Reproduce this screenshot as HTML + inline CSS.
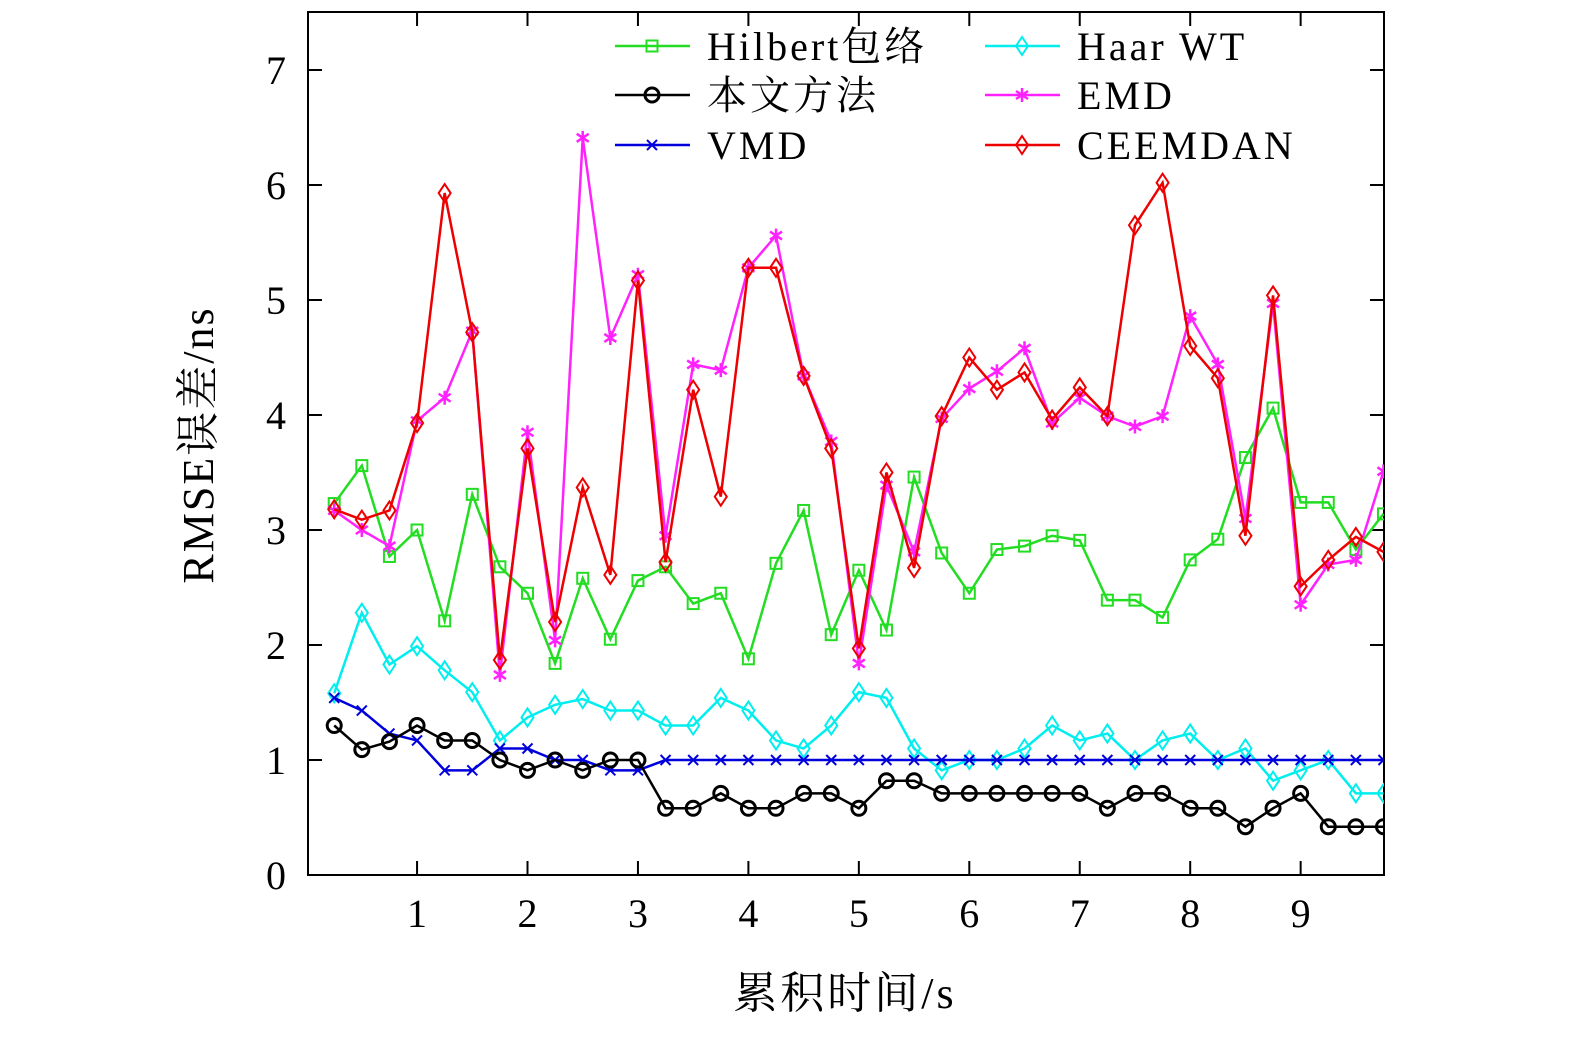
<!DOCTYPE html>
<html><head><meta charset="utf-8"><style>
body{margin:0;background:#fff;}
svg text{font-family:"Liberation Serif","Noto Serif CJK SC",serif;fill:#000;}
</style></head><body>
<svg id="chart" width="1575" height="1039" viewBox="0 0 1575 1039"></svg>
<script>
const xs=[];for(let i=1;i<=39;i++)xs.push(i*0.25);
const hilbert=[3.23,3.56,2.77,3.0,2.21,3.31,2.68,2.45,1.84,2.58,2.05,2.56,2.68,2.36,2.45,1.88,2.71,3.17,2.09,2.65,2.13,3.46,2.80,2.45,2.83,2.86,2.95,2.91,2.39,2.39,2.24,2.74,2.92,3.63,4.06,3.24,3.24,2.83,3.14];
const ours=[1.30,1.09,1.16,1.30,1.17,1.17,1.0,0.91,1.0,0.91,1.0,1.0,0.58,0.58,0.71,0.58,0.58,0.71,0.71,0.58,0.82,0.82,0.71,0.71,0.71,0.71,0.71,0.71,0.58,0.71,0.71,0.58,0.58,0.42,0.58,0.71,0.42,0.42,0.42];
const vmd=[1.54,1.43,1.23,1.17,0.91,0.91,1.1,1.1,1.0,1.0,0.91,0.91,1,1,1,1,1,1,1,1,1,1,1,1,1,1,1,1,1,1,1,1,1,1,1,1,1,1,1];
const haar=[1.58,2.28,1.83,1.99,1.78,1.59,1.17,1.37,1.48,1.53,1.43,1.43,1.30,1.30,1.54,1.43,1.17,1.1,1.30,1.59,1.54,1.1,0.91,1.0,1.0,1.1,1.3,1.17,1.23,1.0,1.17,1.23,1.0,1.1,0.82,0.91,1.0,0.71,0.71];
const emd=[3.17,3.0,2.86,3.95,4.15,4.73,1.74,3.85,2.04,6.41,4.67,5.22,2.95,4.44,4.39,5.28,5.56,4.34,3.77,1.84,3.39,2.81,3.97,4.23,4.38,4.58,3.93,4.15,3.99,3.9,3.99,4.86,4.44,3.10,4.97,2.35,2.70,2.74,3.51];
const ceemdan=[3.18,3.09,3.17,3.93,5.93,4.72,1.87,3.71,2.2,3.37,2.61,5.17,2.72,4.22,3.29,5.28,5.28,4.34,3.71,1.97,3.50,2.67,3.99,4.50,4.22,4.37,3.96,4.24,3.99,5.65,6.02,4.6,4.32,2.95,5.04,2.51,2.74,2.94,2.81];
const xTicks=[1,2,3,4,5,6,7,8,9];
const yTicks=[0,1,2,3,4,5,6,7];
const L=308,R=1384,T=12,B=875;
const X=v=>306.6+v*110.45, Y=v=>875-v*115;
const NS="http://www.w3.org/2000/svg";
const svg=document.getElementById('chart');
function mk(t,a,p){const e=document.createElementNS(NS,t);for(const k in a)e.setAttribute(k,a[k]);(p||svg).appendChild(e);return e;}
const clip=mk('clipPath',{id:'c'});mk('rect',{x:L,y:T,width:R-L,height:B-T},clip);
const frame=mk('rect',{x:L,y:T,width:R-L,height:B-T,fill:'none',stroke:'#000','stroke-width':2});


yTicks.forEach(v=>{const y=Y(v);
mk('line',{x1:L,x2:L+14,y1:y,y2:y,stroke:'#000','stroke-width':2});
mk('line',{x1:R,x2:R-14,y1:y,y2:y,stroke:'#000','stroke-width':2});
const t=mk('text',{x:286,y:y+14,'font-size':40,'text-anchor':'end'});t.textContent=v;

});
xTicks.forEach(v=>{const x=X(v);
mk('line',{x1:x,x2:x,y1:B,y2:B-14,stroke:'#000','stroke-width':2});
mk('line',{x1:x,x2:x,y1:T,y2:T+14,stroke:'#000','stroke-width':2});
const t=mk('text',{x:x,y:927,'font-size':40,'text-anchor':'middle'});t.textContent=v;

});
const xt=mk('text',{x:845,y:1008,'font-size':44,'text-anchor':'middle','letter-spacing':3});xt.textContent='累积时间/s';


const yt=mk('text',{x:0,y:0,'font-size':44,'text-anchor':'middle','letter-spacing':2,transform:'translate(213,445) rotate(-90)'});yt.textContent='RMSE误差/ns';


function marker(g,type,x,y,c){
 if(type==='sq')mk('rect',{x:x-5.5,y:y-5.5,width:11,height:11,fill:'none',stroke:c,'stroke-width':2},g);
 else if(type==='circ')mk('circle',{cx:x,cy:y,r:7,fill:'none',stroke:c,'stroke-width':3},g);
 else if(type==='x'){mk('path',{d:`M${x-5} ${y-5}L${x+5} ${y+5}M${x-5} ${y+5}L${x+5} ${y-5}`,stroke:c,'stroke-width':2},g);}
 else if(type==='dia')mk('path',{d:`M${x} ${y-9}L${x+6} ${y}L${x} ${y+9}L${x-6} ${y}Z`,fill:'none',stroke:c,'stroke-width':2},g);
 else if(type==='star'){mk('path',{d:`M${x} ${y-7}V${y+7}M${x-6} ${y-4}L${x+6} ${y+4}M${x-6} ${y+4}L${x+6} ${y-4}`,stroke:c,'stroke-width':2.5},g);}
}
const series=[
 {n:'hilbert',d:hilbert,c:'#22dd22',m:'sq'},
 {n:'haar-wt',d:haar,c:'#00eeee',m:'dia'},
 {n:'emd',d:emd,c:'#ff22ff',m:'star'},
 {n:'ceemdan',d:ceemdan,c:'#ee0000',m:'dia'},
 {n:'vmd',d:vmd,c:'#0000dd',m:'x'},
 {n:'proposed-method',d:ours,c:'#000',m:'circ'}];
series.forEach(s=>{
 const g=mk('g',{'clip-path':'url(#c)'});
 
 
 mk('polyline',{points:s.d.map((v,i)=>X(xs[i])+','+Y(v)).join(' '),fill:'none',stroke:s.c,'stroke-width':2.5},g);
 s.d.forEach((v,i)=>marker(g,s.m,X(xs[i]),Y(v),s.c));
});
const leg=[['Hilbert包络','#22dd22','sq',615,46],['本文方法','#000','circ',615,95],['VMD','#0000dd','x',615,145],
['Haar WT','#00eeee','dia',985,46],['EMD','#ff22ff','star',985,95],['CEEMDAN','#ee0000','dia',985,145]];
leg.forEach(l=>{const g=mk('g',{});
 
 
 mk('line',{x1:l[3],x2:l[3]+75,y1:l[4],y2:l[4],stroke:l[1],'stroke-width':2.5},g);
 marker(g,l[2],l[3]+37,l[4],l[1]);
 const t=mk('text',{x:l[3]+92,y:l[4]+14,'font-size':40,'letter-spacing':3},g);t.textContent=l[0];});
</script></body></html>
